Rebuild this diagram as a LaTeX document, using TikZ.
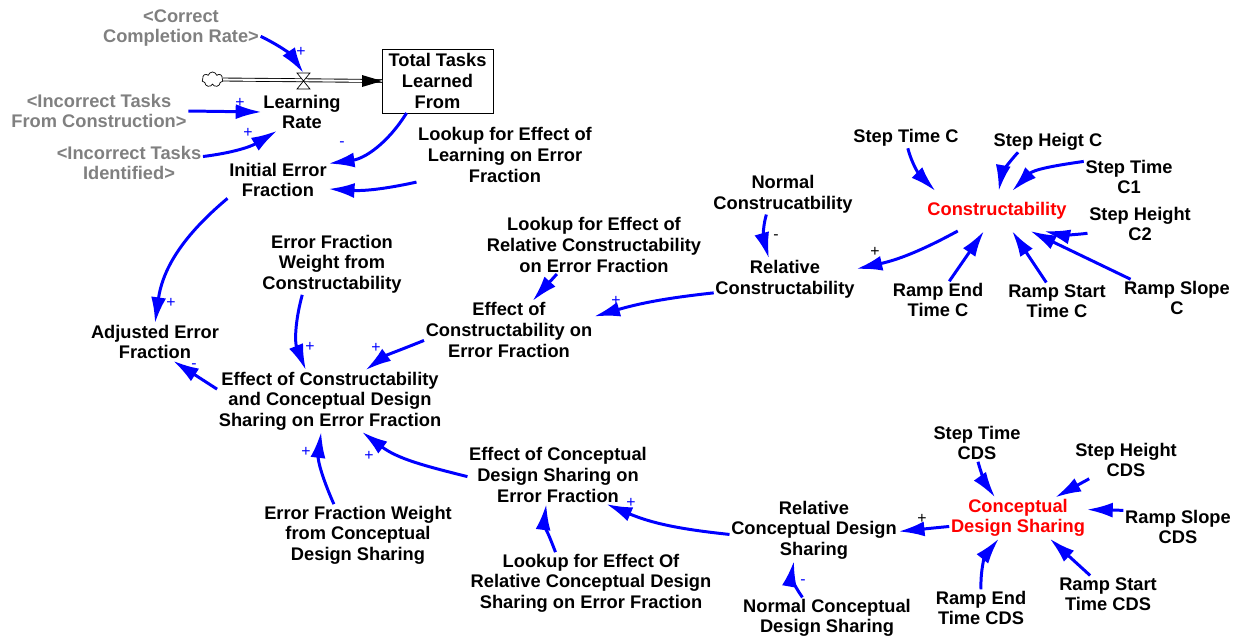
\documentclass[tikz,border=0pt]{standalone}
\usepackage{fontspec}
\setmainfont{Liberation Sans}
\usetikzlibrary{arrows.meta}
\usetikzlibrary{shapes.symbols}
\definecolor{linkblue}{RGB}{0,0,255}
\definecolor{shadowgray}{RGB}{128,128,128}
\definecolor{keyred}{RGB}{255,0,0}
\tikzset{%
    var/.style={inner sep=1pt,outer sep=0pt,align=center,font=\bfseries\fontsize{10.4}{11.7}\selectfont},
    shadow/.style={var,text=shadowgray},
    key/.style={var,text=keyred},
    level/.style={var,draw,thin,minimum width=2.22cm,minimum height=1.28cm},
    link/.style={->,linkblue,line width=1.7pt},
    pipe/.style={line width=0.5pt,double,double distance=1.2pt},
    sign/.style={inner sep=0pt,font=\fontsize{9}{9}\selectfont,text=linkblue},
    blacksign/.style={sign,text=black},
}

\begin{document}
\begin{tikzpicture}[x=0.02cm,y=0.02cm,>={Latex[length=5.2mm,width=3mm]}]
        \useasboundingbox (0,0) rectangle (1241,-637);

        \node[shadow] (ccr) at (181,-28) {<Correct\\Completion Rate>};
        \node[shadow] (itc) at (99,-111) {<Incorrect Tasks\\From Construction>};
        \node[shadow] (iti) at (129,-163) {<Incorrect Tasks\\Identified>};
        \node[var] (lr) at (302,-112) {Learning\\Rate};
        \node[level] (stock) at (437.5,-81) {Total Tasks\\Learned\\From};
        \node[cloud,cloud puffs=7,aspect=1.4,draw,thin,inner sep=0pt,minimum width=0.42cm,minimum height=0.3cm] (src) at (212.5,-79.5) {};
        \coordinate (valve) at (303.5,-73);

        \draw[pipe] (src.east) -- (stock.west);
        \fill (stock.west) -- ++(-20,6) -- ++(0,-12) -- cycle;
        \draw[thin,fill=white] (valve) -- ++(-6.5,0) -- ++(6.5,-8) -- ++(6.5,-8) -- ++(-13,0) -- ++(6.5,8) -- ++(6.5,8) -- cycle;

        \node[var] (ie) at (278,-180) {Initial Error\\Fraction};
        \node[var] (lle) at (505,-155) {Lookup for Effect of\\Learning on Error\\Fraction};
        \node[var] (aef) at (155,-342) {Adjusted Error\\Fraction};
        \node[var] (efwc) at (332,-264) {Error Fraction\\Weight from\\Constructability};
        \node[var] (eccds) at (330,-401) {Effect of Constructability\\and Conceptual Design\\Sharing on Error Fraction};
        \node[var] (lrc) at (594,-245) {Lookup for Effect of\\Relative Constructability\\on Error Fraction};
        \node[var] (ece) at (509,-330) {Effect of\\Constructability on\\Error Fraction};
        \node[var] (ncon) at (783,-194) {Normal\\Construcatbility};
        \node[var] (relc) at (785,-279) {Relative\\Constructability};

        \node[key,minimum height=0.8cm] (con) at (997,-211) {Constructability};
        \node[var] (stc) at (906,-138) {Step Time C};
        \node[var] (shc) at (1048,-142) {Step Heigt C};
        \node[var] (stc1) at (1129,-177) {Step Time\\C1};
        \node[var] (shc2) at (1140,-224) {Step Height\\C2};
        \node[var] (retc) at (938,-300) {Ramp End\\Time C};
        \node[var] (rstc) at (1057,-301) {Ramp Start\\Time C};
        \node[var] (rsc) at (1177,-298) {Ramp Slope\\C};

        \node[var] (ecds) at (558,-475) {Effect of Conceptual\\Design Sharing on\\Error Fraction};
        \node[var] (efwcds) at (358,-535) {Error Fraction Weight\\from Conceptual\\Design Sharing};
        \node[var] (lcds) at (591,-583) {Lookup for Effect Of\\Relative Conceptual Design\\Sharing on Error Fraction};
        \node[var] (rcds) at (814,-530) {Relative\\Conceptual Design\\Sharing};
        \node[var] (ncds) at (827,-618) {Normal Conceptual\\Design Sharing};

        \node[key] (cds) at (1018,-518) {Conceptual\\Design Sharing};
        \node[var] (stcds) at (977,-443) {Step Time\\CDS};
        \node[var] (shcds) at (1126,-460) {Step Height\\CDS};
        \node[var] (rscds) at (1178,-527) {Ramp Slope\\CDS};
        \node[var] (retcds) at (981,-608) {Ramp End\\Time CDS};
        \node[var] (rstcds) at (1108,-594) {Ramp Start\\Time CDS};

        \draw[link] (ccr.-6) to[bend left=15] (valve);
        \draw[link] (itc.east) -- (lr.west);
        \draw[link] (iti.5) to[bend right=12] (lr.-143);
        \draw[link] (stock.-134) to[bend left=25] (ie.18);
        \draw[link] (lle.-163) to[bend left=8] (ie.-10);
        \draw[link] (ie.-160) to[out=-140,in=82] (aef.north);
        \draw[link] (efwc.-134) to[out=-105,in=112] (eccds.128);
        \draw[link] (ece.-173) to[out=-158,in=36] (eccds.41);
        \draw[link] (eccds.174) -- (aef.-46);
        \draw[link] (lrc.-142) -- (ece.51);
        \draw[link] (relc.-169) to[bend right=5] (ece.9);
        \draw[link] (ncon.-129) to[out=-106,in=106] (relc.128);

        \draw[link] (con.-153) to[bend left=8] (relc.8);
        \draw[link] (stc.-80) to[out=-75,in=135] (con.162);
        \draw[link] (shc.-161) to[out=-133,in=80] (con.85);
        \draw[link] (stc1.161) to[out=-172,in=45] (con.53);
        \draw[link] (shc2.-170) to[bend left=10] (con.-23);
        \draw[link] (retc.59) -- (con.-123);
        \draw[link] (rstc.120) -- (con.-53);
        \draw[link] (rsc.158) -- (con.-31);

        \draw[link] (ecds.-179) to[out=166,in=-37] (eccds.-44);
        \draw[link] (efwcds.128) to[out=114,in=-97] (eccds.-106);
        \draw[link] (lcds.139) to[out=111,in=-97] (ecds.-112);
        \draw[link] (rcds.-177) to[out=174,in=-23] (ecds.-31);
        \draw[link] (ncds.140) to[out=126,in=-100] (rcds.-123);

        \draw[link] (cds.-173) -- (rcds.-1);
        \draw[link] (stcds.-87) to[bend right=10] (cds.138);
        \draw[link] (shcds.-153) -- (cds.29);
        \draw[link] (rscds.163) -- (cds.7);
        \draw[link] (retcds.north) to[out=92,in=-129] (cds.-133);
        \draw[link] (rstcds.134) -- (cds.-33);

        \node[sign] (s1) at (301,-52) {+};
        \node[sign] (s2) at (240,-103) {+};
        \node[sign] (s3) at (248,-133) {+};
        \node[sign] (s4) at (342,-144) {-};
        \node[sign] (s5) at (171,-303) {+};
        \node[sign] (s6) at (310,-347) {+};
        \node[sign] (s7) at (376,-348) {+};
        \node[sign] (s8) at (194,-366) {-};
        \node[sign] (s9) at (616,-301) {+};
        \node[blacksign] (s10) at (776,-237) {-};
        \node[blacksign] (s11) at (875,-252) {+};
        \node[sign] (s12) at (306,-452) {+};
        \node[sign] (s13) at (369,-456) {+};
        \node[sign] (s14) at (631,-503) {+};
        \node[sign] (s15) at (803,-582) {-};
        \node[blacksign] (s16) at (922,-519) {+};
\end{tikzpicture}
\end{document}
